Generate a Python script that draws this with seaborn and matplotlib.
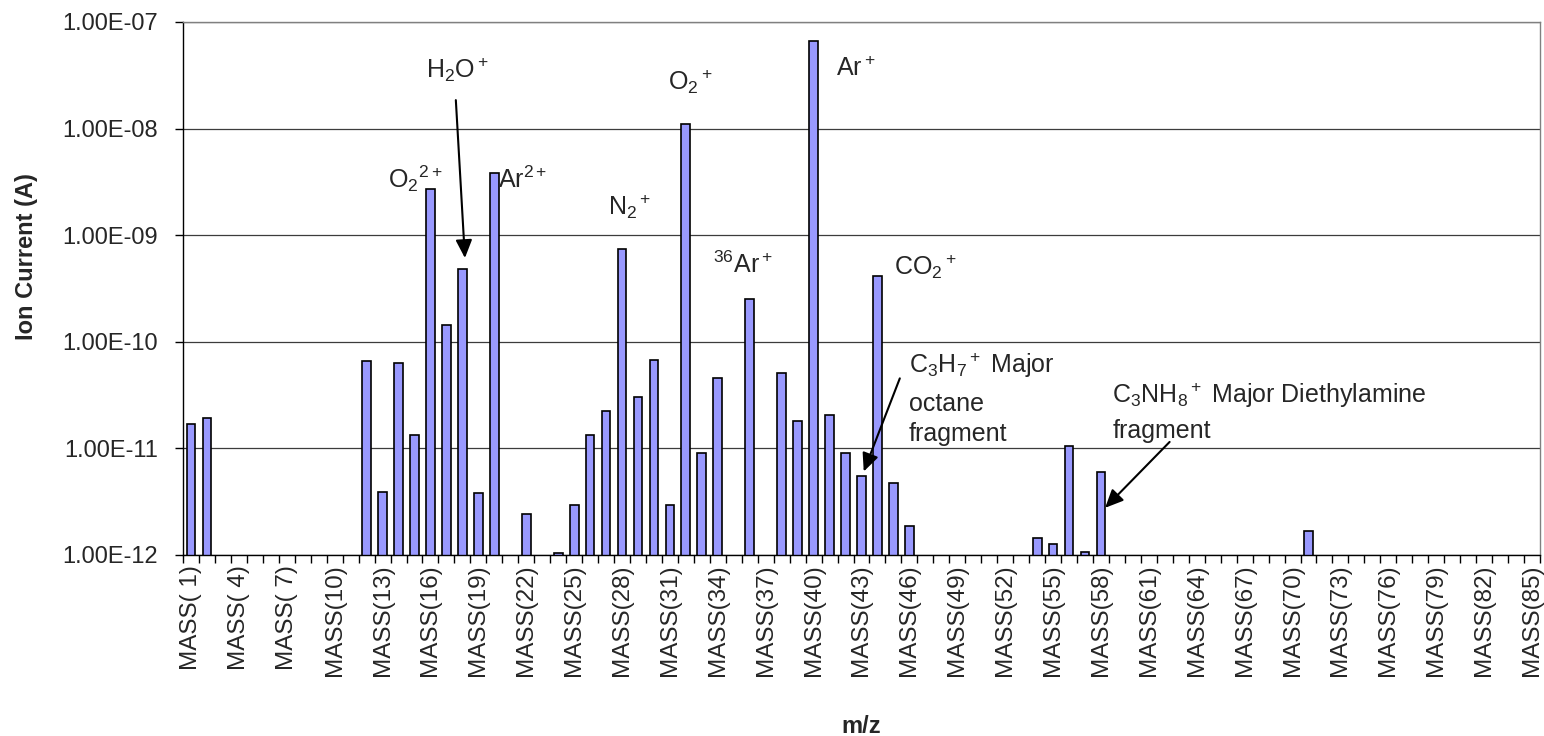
import numpy as np
import pandas as pd
import matplotlib
matplotlib.use("Agg")
import matplotlib.pyplot as plt
import seaborn as sns
from matplotlib.ticker import FixedLocator, FuncFormatter, NullLocator

nan = float("nan")

# ---- data -------------------------------------------------------------
masses = list(range(1, 86))
mass_labels = [f"MASS({m:2d})" for m in masses]

ion_current = [
    1.68e-11, 1.93e-11, nan, nan, nan, nan, nan, nan, nan, nan,          # 1-10
    nan, 6.55e-11, 3.92e-12, 6.30e-11, 1.33e-11, 2.70e-9, 1.45e-10,      # 11-17
    4.79e-10, 3.80e-12, 3.81e-9,                                          # 18-20
    nan, 2.43e-12, nan, 1.04e-12, 2.95e-12, 1.35e-11, 2.26e-11,          # 21-27
    7.46e-10, 3.02e-11, 6.68e-11,                                         # 28-30
    2.95e-12, 1.10e-8, 9.10e-12, 4.60e-11, nan, 2.53e-10, nan,           # 31-37
    5.09e-11, 1.79e-11, 6.64e-8,                                          # 38-40
    2.06e-11, 9.10e-12, 5.48e-12, 4.18e-10, 4.73e-12, 1.86e-12,          # 41-46
    nan, nan, nan, nan,                                                   # 47-50
    nan, nan, nan, 1.45e-12, 1.26e-12, 1.05e-11, 1.07e-12, 5.95e-12,     # 51-58
    nan, nan,                                                             # 59-60
    nan, nan, nan, nan, nan, nan, nan, nan, nan, nan,                    # 61-70
    1.68e-12, nan, nan, nan, nan, nan, nan, nan, nan, nan,               # 71-80
    nan, nan, nan, nan, nan,                                              # 81-85
]

ytick_values = [1e-12, 1e-11, 1e-10, 1e-9, 1e-8, 1e-7]
label_every = 3

df = pd.DataFrame({"mass": mass_labels, "current": ion_current})

# ---- style ------------------------------------------------------------
sns.set_style("white")
plt.rcParams["font.family"] = ["Liberation Sans", "DejaVu Sans"]
plt.rcParams["mathtext.fontset"] = "custom"
plt.rcParams["mathtext.rm"] = "Liberation Sans"
plt.rcParams["mathtext.it"] = "Liberation Sans:italic"
plt.rcParams["mathtext.bf"] = "Liberation Sans:bold"
plt.rcParams["mathtext.default"] = "regular"

fig = plt.figure(figsize=(15.44, 7.36), dpi=100)
ax = fig.add_axes([183 / 1544, 1 - 555 / 736, (1540 - 183) / 1544, (555 - 22) / 736])

sns.barplot(data=df, x="mass", y="current", order=mass_labels,
            color="#9999FF", saturation=1, edgecolor="black",
            linewidth=1.2, width=0.55, ax=ax, errorbar=None)

ax.set_yscale("log")
ax.set_ylim(1e-12, 1e-7)
ax.set_xlim(-0.5, len(masses) - 0.5)

# y axis
ax.yaxis.set_major_locator(FixedLocator(ytick_values))
ax.yaxis.set_minor_locator(NullLocator())
ax.yaxis.set_major_formatter(FuncFormatter(lambda v, p: f"{v:.2E}"))
ax.tick_params(axis="y", which="major", direction="out", length=6, width=1,
               color="black", pad=12, labelsize=17, left=True)

# x axis: labels every 3rd category, tick marks between categories
pos = np.arange(len(masses))
ax.xaxis.set_major_locator(FixedLocator(pos[::label_every]))
ax.set_xticklabels([mass_labels[i] for i in pos[::label_every]], rotation=90)
ax.xaxis.set_minor_locator(FixedLocator(np.arange(len(masses) + 1) - 0.5))
ax.tick_params(axis="x", which="major", length=0, pad=7, labelsize=17.5)
ax.tick_params(axis="x", which="minor", direction="out", length=6, width=1,
               color="black", bottom=True)

# grid and frame
ax.set_axisbelow(True)
ax.yaxis.grid(True, color="#3c3c3c", linewidth=0.9)
ax.xaxis.grid(False)
for side in ("left", "bottom"):
    ax.spines[side].set_color("black")
    ax.spines[side].set_linewidth(1.0)
for side in ("top", "right"):
    ax.spines[side].set_color("#808080")
    ax.spines[side].set_linewidth(1.0)

ax.set_xlabel("m/z", fontsize=17, fontweight="bold")
ax.xaxis.set_label_coords(0.5, -0.300)
ax.set_ylabel("Ion Current (A)", fontsize=17, fontweight="bold")
ax.yaxis.set_label_coords(-0.107, 0.56)

# ---- annotations ------------------------------------------------------
fs = 18
def lab(x, y, s):
    ax.text(x, y, s, fontsize=fs, ha="left", va="baseline")

lab(12.34, 2.77e-9, r"O$_2$$^{2+}$")
lab(14.72, 2.99e-8, r"H$_2$O$^+$")
lab(19.22, 2.77e-9, r"Ar$^{2+}$")
lab(26.11, 1.55e-9, r"N$_2$$^+$")
lab(29.87, 2.30e-8, r"O$_2$$^+$")
lab(32.69, 4.42e-10, r"$^{36}$Ar$^+$")
lab(40.39, 3.11e-8, r"Ar$^+$")
lab(44.02, 4.28e-10, r"CO$_2$$^+$")

lab(44.96, 5.09e-11, r"C$_3$H$_7$$^+$ Major")
lab(44.96, 2.26e-11, "octane")
lab(44.96, 1.17e-11, "fragment")

lab(57.72, 2.67e-11, r"C$_3$NH$_8$$^+$ Major Diethylamine")
lab(57.72, 1.25e-11, "fragment")

arrow = dict(arrowstyle="-|>,head_length=0.55,head_width=0.25",
             mutation_scale=20, color="black", lw=1.5,
             shrinkA=0, shrinkB=0)
ax.annotate("", xy=(17.16, 6.11e-10), xytext=(16.59, 1.85e-8), arrowprops=arrow)
ax.annotate("", xy=(42.14, 6.07e-12), xytext=(44.40, 4.54e-11), arrowprops=arrow)
ax.annotate("", xy=(57.26, 2.77e-12), xytext=(61.30, 1.15e-11), arrowprops=arrow)

fig.savefig("out.png", dpi=100)
